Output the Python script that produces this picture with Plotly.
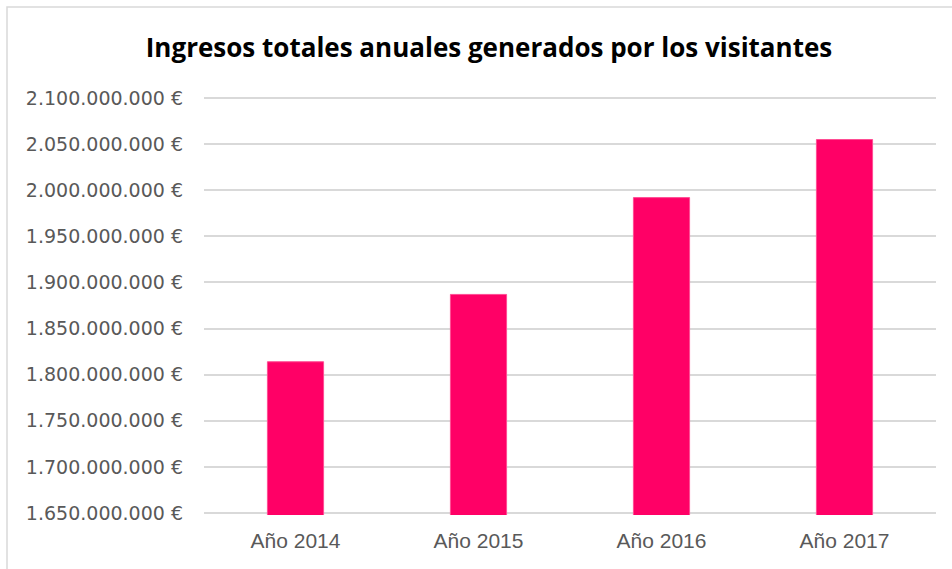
import plotly.graph_objects as go

categories = ["Año 2014", "Año 2015", "Año 2016", "Año 2017"]
ingresos = [1814000000, 1887000000, 1992000000, 2055000000]
title_text = "Ingresos totales anuales generados por los visitantes"

W, H = 952, 569
L, R = 204, 16
T, B = 96, 54          # plot area 98..512 plus ~2px padding each side
pw, ph = W - L - R, H - T - B

fig = go.Figure(go.Bar(
    x=categories, y=ingresos, width=0.307,
    marker=dict(color="#FF0066", line=dict(color="#FF4D94", width=1)),
))

fig.update_layout(
    width=W, height=H,
    margin=dict(l=L, r=R, t=T, b=B),
    paper_bgcolor="white", plot_bgcolor="white",
    separators=",.",
    showlegend=False,
    title=dict(text=title_text, x=489 / W, xanchor="center", y=1 - 48 / H, yanchor="middle",
               font=dict(family="Open Sans, sans-serif", size=26, color="black", weight="bold")),
    xaxis=dict(range=[-0.5, 3.5], showgrid=False, showline=False, zeroline=False,
               tickfont=dict(family="Liberation Sans, Arial, sans-serif", size=21, color="#595959"),
               ticks="", ticklabelstandoff=11),
    yaxis=dict(range=[1647800000, 2102200000], tick0=1650000000, dtick=50000000,
               tickformat=",.0f", ticksuffix=" €",
               showgrid=True, gridcolor="#D9D9D9", gridwidth=1.5, zeroline=False, showline=False,
               tickfont=dict(family="DejaVu Sans, sans-serif", size=19, color="#595959"),
               ticks="", ticklabelstandoff=20),
    shapes=[dict(type="rect", xref="paper", yref="paper",
                 x0=(7 - L) / pw, x1=(W + 20 - L) / pw,
                 y0=-(B + 40) / ph, y1=1 + (T - 7) / ph,
                 line=dict(color="#D9D9D9", width=1.5), fillcolor="rgba(0,0,0,0)", layer="below")],
)

fig.write_html("out.html", config={"displayModeBar": False},
               post_script="document.body.style.margin='0';")
